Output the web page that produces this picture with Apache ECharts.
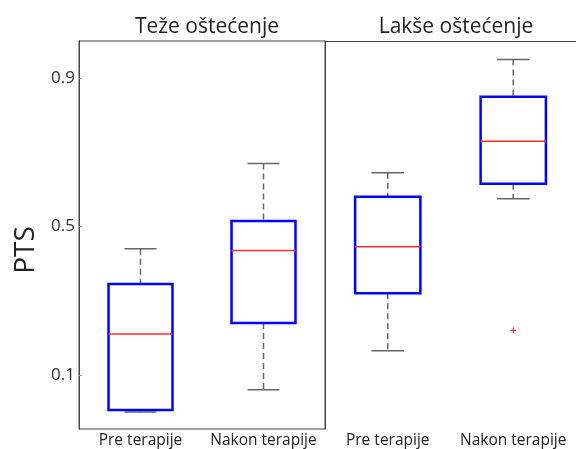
<!DOCTYPE html>
<html>
<head>
<meta charset="utf-8">
<script src="https://cdn.jsdelivr.net/npm/echarts@6/dist/echarts.min.js"></script>
<style>
  html, body { margin: 0; padding: 0; background: #fff; }
  #main { width: 576px; height: 449px; }
</style>
</head>
<body>
<div id="main"></div>
<script>
  // kategorije i paneli
  var categories = ['Pre terapije', 'Nakon terapije'];
  var panelTitles = ['Teže oštećenje', 'Lakše oštećenje'];
  var yTicks = [0.1, 0.5, 0.9];

  // [min, Q1, medijana, Q3, max] za svaku kategoriju
  var tezeBoxes = [
    [0.0, 0.005, 0.21, 0.345, 0.44],
    [0.06, 0.24, 0.435, 0.515, 0.67]
  ];
  var lakseBoxes = [
    [0.165, 0.32, 0.445, 0.58, 0.645],
    [0.575, 0.615, 0.73, 0.85, 0.95]
  ];
  // [indeks kategorije, vrijednost]
  var lakseOutliers = [[1, 0.22]];

  var font = '"Open Sans", "Noto Sans", sans-serif';
  var myChart = echarts.init(document.getElementById('main'));

  function toRows(boxes) {
    return boxes.map(function (b, i) { return [i].concat(b); });
  }

  function renderBox(params, api) {
    var x = api.value(0);
    var band = api.size([1, 0])[0];
    var half = band * 0.26;
    var cap = half / 2;
    var pMin = api.coord([x, api.value(1)]);
    var pQ1 = api.coord([x, api.value(2)]);
    var pMed = api.coord([x, api.value(3)]);
    var pQ3 = api.coord([x, api.value(4)]);
    var pMax = api.coord([x, api.value(5)]);
    var cx = pMed[0];
    var whisker = { stroke: '#666', lineWidth: 1.5, lineDash: [6, 4] };
    var capStyle = { stroke: '#666', lineWidth: 1.5 };
    return {
      type: 'group',
      children: [
        { type: 'line', shape: { x1: cx, y1: pMax[1], x2: cx, y2: pQ3[1] }, style: whisker },
        { type: 'line', shape: { x1: cx, y1: pQ1[1], x2: cx, y2: pMin[1] }, style: whisker },
        { type: 'line', shape: { x1: cx - cap, y1: pMax[1], x2: cx + cap, y2: pMax[1] }, style: capStyle },
        { type: 'line', shape: { x1: cx - cap, y1: pMin[1], x2: cx + cap, y2: pMin[1] }, style: capStyle },
        {
          type: 'rect',
          shape: { x: cx - half, y: pQ3[1], width: half * 2, height: pQ1[1] - pQ3[1] },
          style: { fill: 'none', stroke: '#0000ff', lineWidth: 2.5 }
        },
        { type: 'line', shape: { x1: cx - half, y1: pMed[1], x2: cx + half, y2: pMed[1] }, style: { stroke: '#ff2a2a', lineWidth: 1.5 } }
      ]
    };
  }

  function renderPlus(params, api) {
    var p = api.coord([api.value(0), api.value(1)]);
    var s = 3;
    var st = { stroke: '#ff0000', lineWidth: 1 };
    return {
      type: 'group',
      children: [
        { type: 'line', shape: { x1: p[0] - s, y1: p[1], x2: p[0] + s, y2: p[1] }, style: st },
        { type: 'line', shape: { x1: p[0], y1: p[1] - s, x2: p[0], y2: p[1] + s }, style: st }
      ]
    };
  }

  var yBase = {
    type: 'value',
    min: -0.046,
    max: 1.0,
    splitLine: { show: false }
  };

  var xLabel = { fontSize: 15.5, color: '#222', margin: 4, interval: 0, hideOverlap: false };

  var option = {
    animation: false,
    textStyle: { fontFamily: font },
    title: [
      { text: panelTitles[0], left: 202, top: 12, textAlign: 'center',
        textStyle: { fontSize: 21, fontWeight: 'normal', color: '#222', fontFamily: font } },
      { text: panelTitles[1], left: 451, top: 12, textAlign: 'center',
        textStyle: { fontSize: 21, fontWeight: 'normal', color: '#222', fontFamily: font } }
    ],
    grid: [
      { left: 79, top: 41, width: 246, height: 388, show: true, borderColor: '#444', borderWidth: 1 },
      { left: 325, top: 41, width: 252, height: 388 }
    ],
    xAxis: [
      {
        type: 'category', gridIndex: 0, data: categories,
        axisLine: { show: false }, axisTick: { show: false },
        axisLabel: xLabel
      },
      {
        type: 'category', gridIndex: 1, data: categories,
        axisLine: { show: false }, axisTick: { show: false },
        axisLabel: xLabel
      },
      {
        type: 'category', gridIndex: 1, data: categories, position: 'top',
        axisLine: { show: true, lineStyle: { color: '#444', width: 1 } },
        axisTick: { show: false }, axisLabel: { show: false }
      }
    ],
    yAxis: [
      Object.assign({}, yBase, {
        gridIndex: 0,
        axisLine: { show: true, lineStyle: { color: '#444', width: 1 } },
        axisTick: { show: true, inside: true, length: 3, customValues: yTicks, lineStyle: { color: '#999' } },
        axisLabel: { fontSize: 17, color: '#333', margin: 4, customValues: yTicks,
          formatter: function (v) { return v.toFixed(1); } }
      }),
      Object.assign({}, yBase, {
        gridIndex: 1,
        axisLine: { show: true, lineStyle: { color: '#444', width: 1 } },
        axisTick: { show: false },
        axisLabel: { show: false }
      })
    ],
    graphic: [
      {
        type: 'text', x: 26, y: 250, rotation: Math.PI / 2,
        style: { text: 'PTS', font: '28px ' + font, fill: '#222', align: 'center', verticalAlign: 'middle' }
      }
    ],
    series: [
      {
        type: 'custom', xAxisIndex: 0, yAxisIndex: 0,
        data: toRows(tezeBoxes), renderItem: renderBox,
        encode: { x: 0, y: [1, 2, 3, 4, 5] }
      },
      {
        type: 'custom', xAxisIndex: 1, yAxisIndex: 1,
        data: toRows(lakseBoxes), renderItem: renderBox,
        encode: { x: 0, y: [1, 2, 3, 4, 5] }
      },
      {
        type: 'custom', xAxisIndex: 1, yAxisIndex: 1,
        data: lakseOutliers, renderItem: renderPlus,
        encode: { x: 0, y: 1 }
      }
    ]
  };

  myChart.setOption(option);
</script>
</body>
</html>
